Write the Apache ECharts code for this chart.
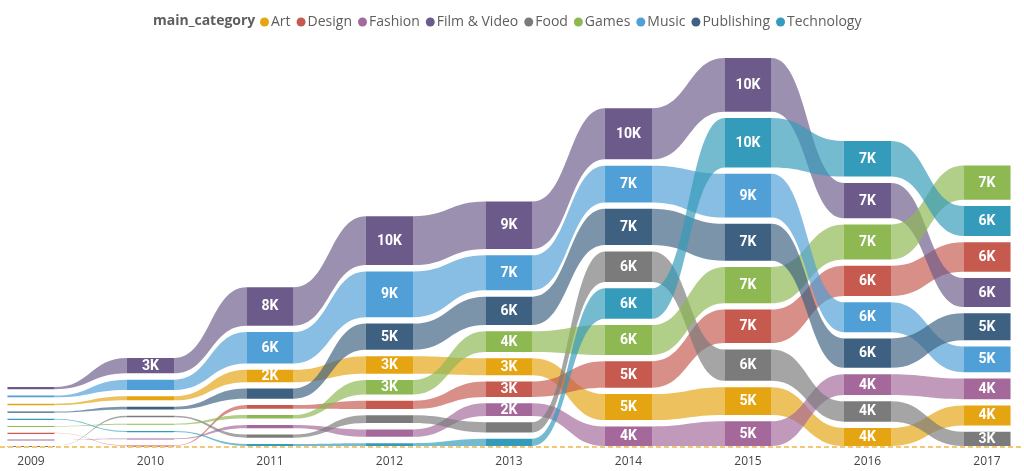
<!DOCTYPE html>
<html><head><meta charset="utf-8">
<script src="https://cdn.jsdelivr.net/npm/echarts@6/dist/echarts.min.js"></script>
<style>html,body{margin:0;padding:0;background:#fff;}#c{width:1024px;height:471px;}</style>
</head><body><div id="c"></div>
<script>
// ---- data (values in thousands of projects) ----
const years = ['2009','2010','2011','2012','2013','2014','2015','2016','2017'];
const categories = ['Art','Design','Fashion','Film & Video','Food','Games','Music','Publishing','Technology'];
const art        = [0.30, 0.80, 2.40, 3.40, 3.30, 5.05, 5.40, 3.50, 3.90];
const design     = [0.05, 0.10, 0.72, 1.60, 3.00, 5.15, 6.50, 5.85, 5.70];
const fashion    = [0.04, 0.15, 0.65, 1.45, 2.45, 3.80, 4.80, 4.05, 4.00];
const film       = [0.45, 3.00, 7.50, 9.50, 9.20, 9.90, 10.40, 6.85, 5.65];
const food       = [0.02, 0.30, 0.60, 1.52, 2.00, 5.95, 6.10, 3.95, 2.75];
const games      = [0.12, 0.22, 0.68, 2.80, 4.00, 5.80, 7.05, 6.80, 6.65];
const music      = [0.35, 2.00, 6.10, 8.90, 6.80, 7.15, 8.50, 5.80, 5.00];
const publishing = [0.20, 0.55, 2.00, 5.10, 5.50, 7.05, 7.15, 5.70, 5.20];
const technology = [0.15, 0.20, 0.40, 0.55, 1.40, 5.90, 9.60, 6.90, 5.80];
const seriesValues = [art, design, fashion, film, food, games, music, publishing, technology];

// ---- style ----
const colors = ['#E5A512','#C65A4F','#A4699A','#6C5B8A','#7B7B7B','#8DB852','#509FD6','#3E6182','#349BBA'];
const GAP = 6.3;          // px between stacked ribbons
const BAR_FRAC = 0.197;   // half bar width as share of column step
const FONT = "'Open Sans', 'Noto Sans', sans-serif";

// ---- stacking layout per year (largest on top) ----
const layout = categories.map(() => years.map(() => ({})));
years.forEach((y, i) => {
  const order = categories.map((c, k) => k).sort((a, b) => seriesValues[a][i] - seriesValues[b][i]);
  let cum = 0;
  order.forEach((c, rank) => {
    const v = seriesValues[c][i];
    layout[c][i] = { bottom: cum, top: cum + v, rank: rank };
    cum += v;
  });
});

function hexA(hex, a) {
  const n = parseInt(hex.slice(1), 16);
  return 'rgba(' + (n >> 16 & 255) + ',' + (n >> 8 & 255) + ',' + (n & 255) + ',' + a + ')';
}

function makeRender(c) {
  return function (params, api) {
    const i = params.dataIndex;
    const step = api.coord([1, 0])[0] - api.coord([0, 0])[0];
    const hw = step * BAR_FRAC;
    const L = layout[c][i];
    const cx = api.coord([i, 0])[0];
    const yTop = api.coord([i, L.top])[1] - L.rank * GAP;
    const yBot = api.coord([i, L.bottom])[1] - L.rank * GAP;
    const children = [];
    if (i < years.length - 1) {
      const N = layout[c][i + 1];
      const nx = api.coord([i + 1, 0])[0];
      const nTop = api.coord([i + 1, N.top])[1] - N.rank * GAP;
      const nBot = api.coord([i + 1, N.bottom])[1] - N.rank * GAP;
      const xr = cx + hw, xl = nx - hw, xm = (xr + xl) / 2;
      const d = 'M' + xr + ' ' + yTop +
        ' C' + xm + ' ' + yTop + ' ' + xm + ' ' + nTop + ' ' + xl + ' ' + nTop +
        ' L' + xl + ' ' + nBot +
        ' C' + xm + ' ' + nBot + ' ' + xm + ' ' + yBot + ' ' + xr + ' ' + yBot + ' Z';
      children.push({ type: 'path', shape: { pathData: d }, style: { fill: hexA(colors[c], 0.68) } });
    }
    children.push({
      type: 'rect',
      shape: { x: cx - hw, y: yTop, width: hw * 2, height: Math.max(yBot - yTop, 1.2) },
      style: { fill: colors[c] }
    });
    const h = yBot - yTop;
    if (h >= 11.5) {
      children.push({
        type: 'text',
        x: cx, y: (yTop + yBot) / 2 + 0.5,
        style: {
          text: Math.round(seriesValues[c][i]) + 'K',
          fill: '#fff', align: 'center', verticalAlign: 'middle',
          font: "bold 14px 'Roboto', sans-serif"
        }
      });
    }
    return { type: 'group', children: children };
  };
}

const chart = echarts.init(document.getElementById('c'), null, { renderer: 'canvas' });
const option = {
  animation: false,
  color: colors,
  title: {
    text: 'main_category', left: 153, top: 14, padding: 0,
    textStyle: { fontSize: 14, fontWeight: 'bold', color: '#605E5C', fontFamily: FONT }
  },
  legend: {
    data: categories, left: 260, top: 15, padding: 0,
    icon: 'circle', itemWidth: 9, itemHeight: 9, itemGap: 6,
    textStyle: { fontSize: 14, color: '#605E5C', fontFamily: FONT, padding: [0, 0, 0, -3] }
  },
  grid: { left: 31, right: 37, top: 42, bottom: 25 },
  xAxis: {
    type: 'category', data: years, boundaryGap: false,
    axisLine: { show: false }, axisTick: { show: false }, splitLine: { show: false },
    axisLabel: { interval: 0, color: '#444', fontSize: 12, margin: 10, fontFamily: FONT }
  },
  yAxis: { type: 'value', min: 0, max: 78.4, show: false, splitLine: { show: false } },
  series: categories.map((name, c) => ({
    name: name, type: 'custom',
    renderItem: makeRender(c),
    encode: { x: 0, y: 1 },
    data: years.map((y, i) => [i, seriesValues[c][i]])
  }))
};
chart.setOption(option);
const baseY = chart.convertToPixel({ gridIndex: 0 }, [0, 0])[1];
chart.setOption({
  graphic: [{
    type: 'line', z: 100,
    shape: { x1: 0, y1: baseY + 1, x2: 1024, y2: baseY + 1 },
    style: { stroke: '#F4C878', lineWidth: 2, lineDash: [5, 3] }
  }]
});
</script></body></html>
